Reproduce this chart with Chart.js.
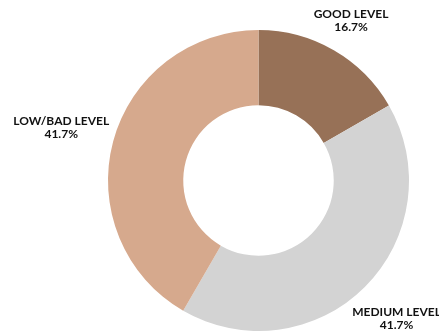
<!DOCTYPE html>
<html><head><meta charset="utf-8">
<script src="https://cdn.jsdelivr.net/npm/chart.js@4/dist/chart.umd.min.js"></script>
<style>html,body{margin:0;padding:0;background:#fff}#wrap{width:439px;height:334px}</style>
</head><body><div id="wrap"><canvas id="c" width="439" height="334"></canvas></div>
<script>
const categories = ["GOOD LEVEL", "MEDIUM LEVEL", "LOW/BAD LEVEL"];
const values = [16.7, 41.7, 41.7];
const colors = ["#977157", "#D3D3D3", "#D6A98D"];

const labelPlugin = {
  id: 'outLabels',
  afterDatasetsDraw(chart) {
    const ctx = chart.ctx;
    const meta = chart.getDatasetMeta(0);
    ctx.save();
    ctx.font = "bold 12px Lato, 'Liberation Sans', sans-serif";
    ctx.fillStyle = "#111";
    ctx.textAlign = "center";
    ctx.textBaseline = "middle";
    const lh = 13.5;
    meta.data.forEach((arc, i) => {
      const p = arc.getProps(['x','y','startAngle','endAngle','outerRadius'], true);
      const mid = (p.startAngle + p.endAngle) / 2;
      const l1 = categories[i], l2 = values[i].toFixed(1) + "%";
      const w = Math.max(ctx.measureText(l1).width, ctx.measureText(l2).width);
      const h = lh * 2;
      const c = Math.cos(mid), s = Math.sin(mid);
      const ext = Math.abs(c) * w / 2 + Math.abs(s) * h / 2;
      const d = p.outerRadius + ext + 4;
      const x = p.x + c * d, y = p.y + s * d;
      ctx.fillText(l1, x, y - lh / 2);
      ctx.fillText(l2, x, y + lh / 2);
    });
    ctx.restore();
  }
};

new Chart(document.getElementById('c'), {
  type: 'doughnut',
  data: { labels: categories, datasets: [{ data: values, backgroundColor: colors, borderWidth: 0 }] },
  options: {
    responsive: false,
    animation: false,
    cutout: '50%',
    layout: { padding: { left: 108, right: 30, top: 30, bottom: 3 } },
    plugins: { legend: { display: false }, tooltip: { enabled: false } }
  },
  plugins: [labelPlugin]
});
</script></body></html>
